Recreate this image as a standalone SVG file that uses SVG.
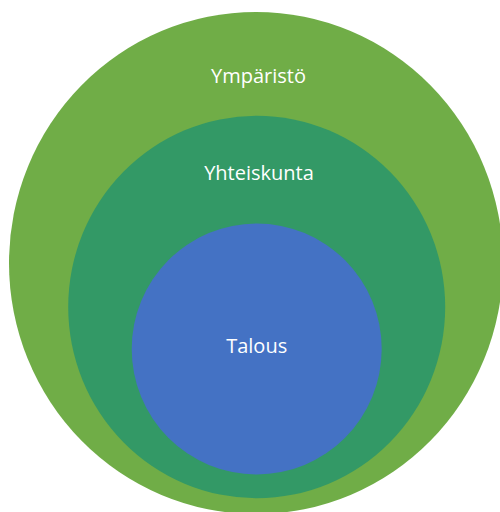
<svg xmlns="http://www.w3.org/2000/svg" width="500" height="512" viewBox="0 0 500 512">
<style>
.lbl{font-family:"Open Sans","Noto Sans","DejaVu Sans",sans-serif;font-size:20px;fill:#ffffff;text-anchor:middle}
</style>
<rect width="500" height="512" fill="#ffffff"/>
<g id="ymparisto">
<ellipse cx="256" cy="263" rx="247" ry="251" fill="#70AD47"/>
<text class="lbl" x="258.5" y="83">Ympäristö</text>
</g>
<g id="yhteiskunta">
<ellipse cx="256.7" cy="307" rx="188.5" ry="191.3" fill="#339966"/>
<text class="lbl" x="259" y="179.5">Yhteiskunta</text>
</g>
<g id="talous">
<ellipse cx="256.7" cy="349" rx="125" ry="125.5" fill="#4472C4"/>
<text class="lbl" x="256.7" y="352.5">Talous</text>
</g>
<g id="connectors"/>
</svg>
